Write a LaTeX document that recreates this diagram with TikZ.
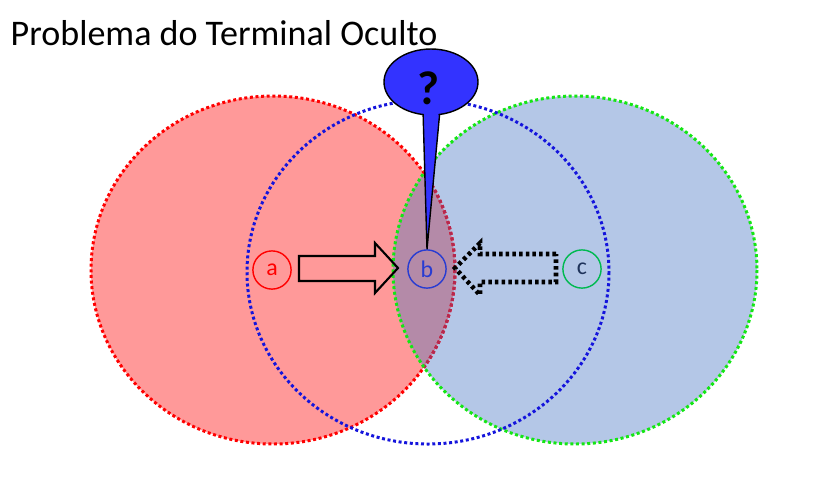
\documentclass[tikz,border=0pt]{standalone}
\usepackage{fontspec}
\setmainfont{Carlito}
\usepackage{tikz}

\definecolor{areaA}{RGB}{255,153,153}
\definecolor{areaC}{RGB}{180,199,231}
\definecolor{areaAC}{RGB}{180,138,168}
\definecolor{redDot}{RGB}{255,0,0}
\definecolor{redDark}{RGB}{180,40,80}
\definecolor{greenDot}{RGB}{20,230,20}
\definecolor{blueDot}{RGB}{20,20,220}
\definecolor{bubble}{RGB}{51,51,255}
\definecolor{termB}{RGB}{40,60,210}
\definecolor{termC}{RGB}{0,185,80}
\definecolor{textC}{RGB}{30,50,90}

\begin{document}
\begin{tikzpicture}[x=0.01cm, y=-0.01cm,
  alcance/.style={line width=0.85pt, dash pattern=on 0.85pt off 0.75pt},
  terminal/.style={draw, circle, minimum size=1.05cm/2.75, inner sep=0pt, line width=0.4pt, font=\fontsize{6.8}{8}\selectfont}]
\useasboundingbox (0,0) rectangle (833,481);

% Titulo
\node[anchor=base west, inner sep=0pt, font=\fontsize{10.25}{12}\selectfont] (titulo) at (10,45) {Problema do Terminal Oculto};

% Areas de alcance de a e c
\fill[areaA] (273,270) ellipse [x radius=182, y radius=174];
\fill[areaC] (575,270) ellipse [x radius=182, y radius=174];
\begin{scope}
\clip (273,270) ellipse [x radius=182, y radius=174];
\fill[areaAC] (575,270) ellipse [x radius=182, y radius=174];
\end{scope}
\draw[alcance, redDot] (273,270) ellipse [x radius=182, y radius=174];
\begin{scope}
\clip (575,270) ellipse [x radius=182, y radius=174];
\draw[alcance, redDark] (273,270) ellipse [x radius=182, y radius=174];
\end{scope}
\draw[alcance, greenDot] (575,270) ellipse [x radius=182, y radius=174];
% Alcance de b
\draw[alcance, blueDot] (428,272) ellipse [x radius=181, y radius=172];

% Terminais
\node[terminal, redDot, text=redDot] (a) at (272,270) {a};
\node[terminal, termB, text=termB] (b) at (427,269) {b};
\node[terminal, termC, text=textC] (c) at (582,269) {c};

% Transmissao de a para b
\draw[line width=0.6pt] (299,256) -- (375,256) -- (375,243) -- (398,268) -- (375,293) -- (375,281) -- (299,281) -- cycle;
% Transmissao de c para b (oculta)
\draw[line width=1.3pt, dash pattern=on 1pt off 0.9pt] (556,254) -- (480,254) -- (480,243) -- (455,268) -- (480,295) -- (480,282) -- (556,282) -- cycle;

% Balao de duvida
\draw[fill=bubble, line width=0.4pt] (423,110) -- (b.north) -- (440,110) -- cycle;
\filldraw[fill=bubble, line width=0.4pt] (431,82) ellipse [x radius=47, y radius=33];
\fill[bubble] (423.8,108) -- (428.5,200) -- (439.2,108) -- cycle;
\node[font=\fontsize{13.5}{15}\selectfont\bfseries] (duvida) at (428,88) {?};
\end{tikzpicture}
\end{document}
